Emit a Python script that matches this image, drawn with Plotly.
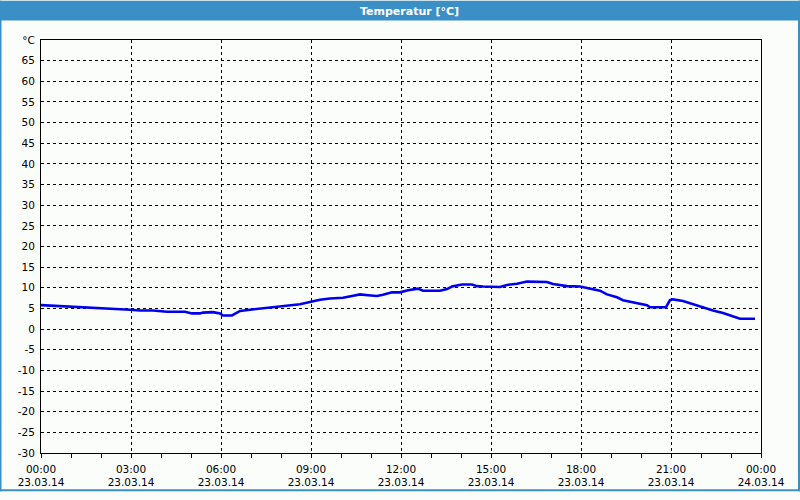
import plotly.graph_objects as go

# ---- data ----
day = "2014-03-23"
times = ["00:00","00:38","01:18","01:52","02:28","02:58","03:18","03:44","04:12","04:48",
         "05:02","05:18","05:24","05:44","05:58","06:04","06:22","06:38","06:58","07:24",
         "07:52","08:18","08:38","09:00","09:18","09:38","10:04","10:22","10:38","10:54",
         "11:12","11:24","11:42","11:58","12:14","12:34","12:44","13:18","13:32","13:42",
         "14:02","14:22","14:32","14:44","15:18","15:32","15:52","16:12","16:32","16:52",
         "17:04","17:32","17:58","18:12","18:38","18:52","19:12","19:24","19:48","20:12",
         "20:18","20:50","20:58","21:04","21:24","21:44","22:04","22:24","22:44","23:04",
         "23:18","23:48"]
temps = [5.8,5.6,5.3,5.2,4.9,4.7,4.5,4.5,4.2,4.2,
         3.8,3.8,4.0,4.1,3.8,3.3,3.3,4.4,4.7,5.0,
         5.3,5.7,6.0,6.6,7.1,7.4,7.6,8.0,8.4,8.2,
         8.0,8.3,8.9,8.9,9.4,9.8,9.3,9.3,9.7,10.3,
         10.8,10.8,10.4,10.3,10.2,10.7,11.0,11.5,11.4,11.4,
         10.9,10.4,10.3,9.9,9.3,8.4,7.7,7.0,6.4,5.8,
         5.3,5.3,7.0,7.2,6.8,6.0,5.3,4.5,3.9,3.1,
         2.5,2.5]

x_tick_pos = ["2014-03-23 00:00","2014-03-23 03:00","2014-03-23 06:00","2014-03-23 09:00",
              "2014-03-23 12:00","2014-03-23 15:00","2014-03-23 18:00","2014-03-23 21:00",
              "2014-03-24 00:00"]
x_tick_time = ["00:00","03:00","06:00","09:00","12:00","15:00","18:00","21:00","00:00"]
x_tick_date = ["23.03.14"]*8 + ["24.03.14"]

y_tick_vals = list(range(-30, 75, 5))
y_tick_text = [str(v) for v in range(-30, 70, 5)] + ["°C"]

title_text = "Temperatur [°C]"

# ---- figure ----
W, H = 800, 500
L, R, T, B = 41, 39, 40, 39
pw, ph = W - L - R, H - T - B

def px(xp):
    return (xp - L) / pw

def py(yp):
    return (H - B - yp) / ph

BLUE = "#3B8FC7"
BG = "#FBFDFB"
FONT = "DejaVu Sans"

fig = go.Figure()
fig.add_trace(go.Scatter(
    x=[f"{day} {t}" for t in times], y=temps, mode="lines",
    line=dict(color="#0000EE", width=2.6), hoverinfo="skip", showlegend=False))

fig.update_layout(
    width=W, height=H, autosize=False,
    margin=dict(l=L, r=R, t=T, b=B, pad=0),
    paper_bgcolor=BG, plot_bgcolor=BG,
    font=dict(family=FONT, size=10, color="#000000"),
    showlegend=False,
    xaxis=dict(
        type="date",
        range=["2014-03-23 00:00", "2014-03-24 00:00"],
        tickmode="array", tickvals=x_tick_pos,
        ticktext=[f"{a}<br>{b}" for a, b in zip(x_tick_time, x_tick_date)],
        ticks="outside", ticklen=4, tickcolor="#000", tickwidth=1,
        minor=dict(dtick=3600000, ticks="outside", ticklen=4, tickcolor="#000", showgrid=False),
        showgrid=True, gridcolor="#000", gridwidth=1, griddash="3px,3px",
        showline=True, linecolor="#000", linewidth=1, mirror=True,
        zeroline=False, fixedrange=True,
        tickfont=dict(family=FONT, size=10.5, color="#000"),
        ticklabelstandoff=2,
    ),
    yaxis=dict(
        range=[-30, 70],
        tickmode="array", tickvals=y_tick_vals, ticktext=y_tick_text,
        ticks="", ticklabelstandoff=3,
        showgrid=True, gridcolor="#000", gridwidth=1, griddash="3px,3px",
        showline=True, linecolor="#000", linewidth=1, mirror=True,
        zeroline=False, fixedrange=True,
        tickfont=dict(family=FONT, size=10.5, color="#000"),
    ),
    shapes=[
        dict(type="rect", xref="paper", yref="paper", x0=px(0), x1=px(W), y0=py(20), y1=py(0),
             fillcolor=BLUE, line=dict(width=0), layer="above"),
        dict(type="rect", xref="paper", yref="paper", x0=px(0), x1=px(1.5), y0=py(H), y1=py(0),
             fillcolor=BLUE, line=dict(width=0), layer="above"),
        dict(type="rect", xref="paper", yref="paper", x0=px(W - 2), x1=px(W), y0=py(H), y1=py(0),
             fillcolor=BLUE, line=dict(width=0), layer="above"),
        dict(type="rect", xref="paper", yref="paper", x0=px(0), x1=px(W), y0=py(H), y1=py(H - 2),
             fillcolor=BLUE, line=dict(width=0), layer="above"),
    ],
    annotations=[
        dict(text=f"<b>{title_text}</b>", xref="paper", yref="paper", x=px(409), y=py(10.5),
             xanchor="center", yanchor="middle", showarrow=False,
             font=dict(family=FONT, size=11, color="#FFFFFF")),
    ],
)

post = (
    "var st=document.createElement('style');"
    "st.textContent='html,body{margin:0!important;padding:0!important;width:800px;height:500px;overflow:hidden;}';"
    "document.head.appendChild(st);"
    "var gd=document.getElementById('{plot_id}');"
    "var p=gd.parentElement;p.style.height='500px';p.style.width='800px';p.style.overflow='hidden';"
    "p.style.margin='0';p.style.padding='0';"
)

fig.write_html(
    "out.html",
    config={"displayModeBar": False, "responsive": False},
    post_script=post,
)
